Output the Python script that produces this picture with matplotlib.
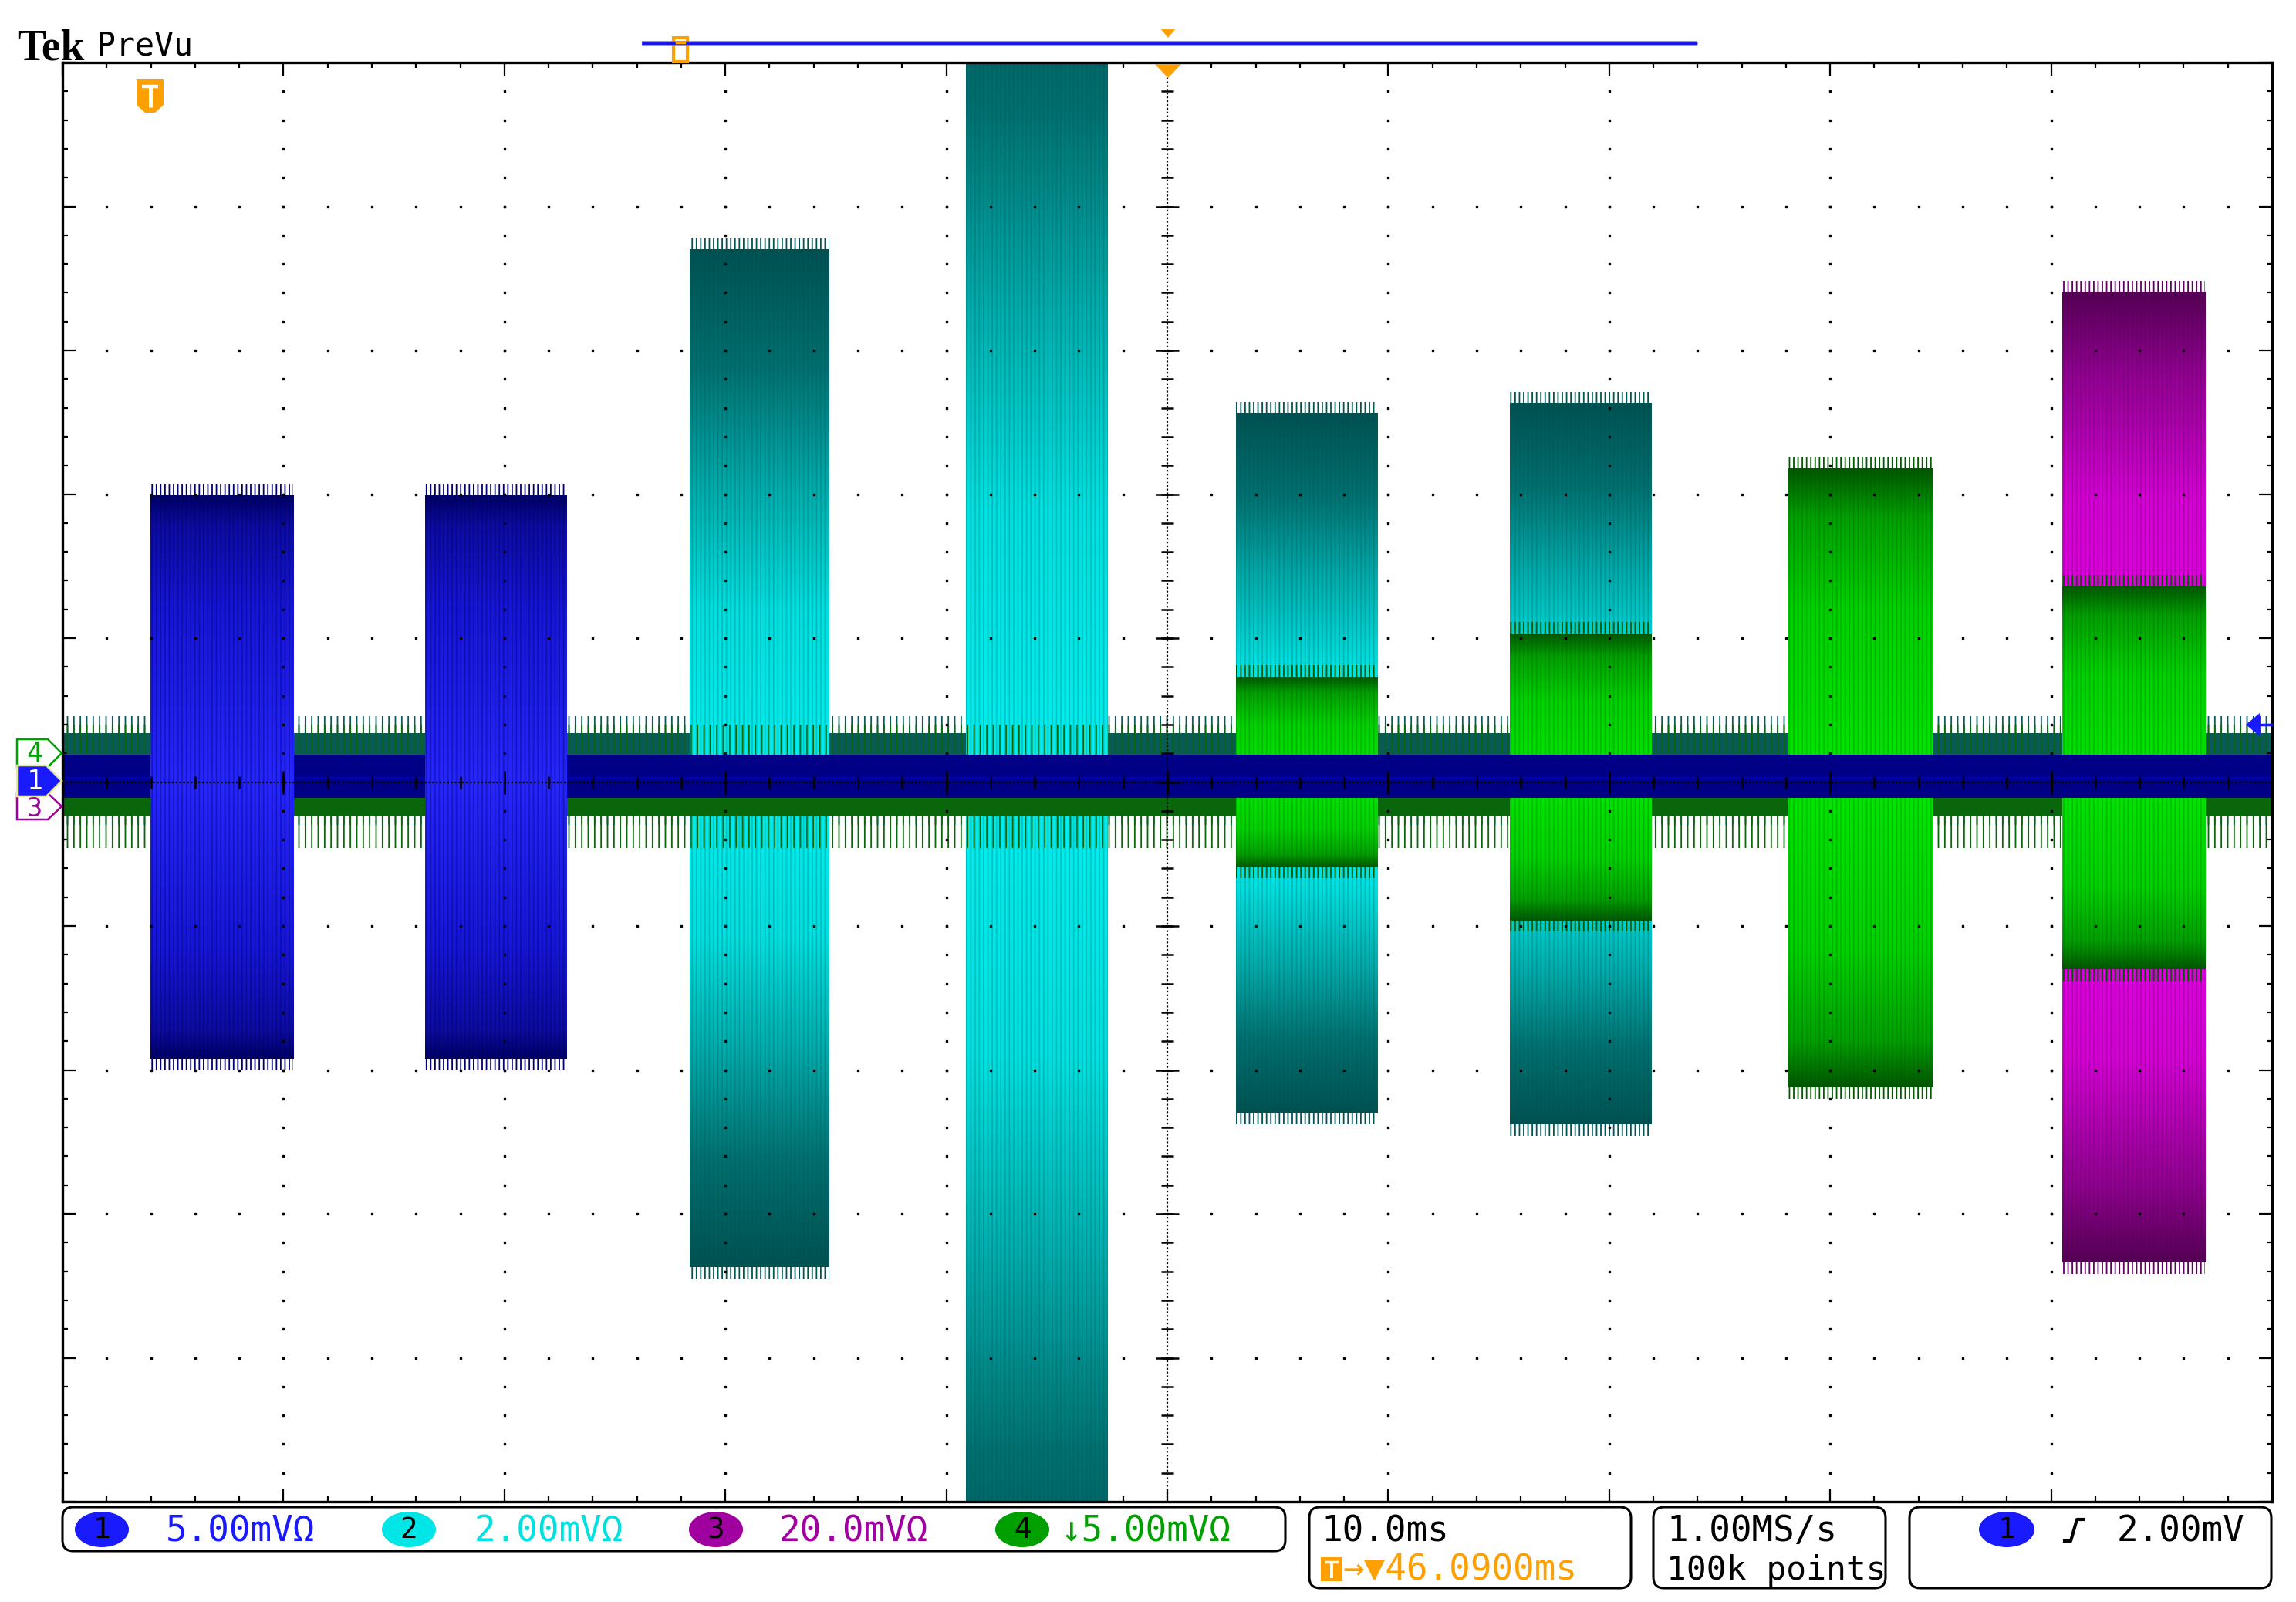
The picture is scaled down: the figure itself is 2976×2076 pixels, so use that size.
import numpy as np
import matplotlib.pyplot as plt
from matplotlib.colors import LinearSegmentedColormap
from matplotlib.patches import FancyBboxPatch, Ellipse, Polygon, Rectangle

# settings printed on the scope screen
ch_names = ['1', '2', '3', '4']
ch_scales = ['5.00mVΩ', '2.00mVΩ', '20.0mVΩ', '↓5.00mVΩ']
ch_colors = ['#1a1aff', '#00e6e6', '#a000a0', '#00a000']
ch_text_colors = ['#1a1aff', '#00e0e0', '#a000a0', '#00a000']
timebase = '10.0ms'
delay = '46.0900ms'
sample_rate = '1.00MS/s'
record_len = '100k points'
trig_level = '2.00mV'

# screen span: time in ms (10 ms/div), amplitude in divisions
t_span = (0.0, 100.0)
v_span = (-5.0, 5.0)

# burst envelopes (start/end in ms, top/bottom in div)
ch1_start = [3.98, 16.4]
ch1_end = [10.44, 22.8]
ch1_top = [1.99, 1.99]
ch1_bot = [-1.92, -1.92]

ch2_start = [28.4, 40.9, 53.1, 65.5]
ch2_end = [34.7, 47.3, 59.5, 71.9]
ch2_top = [3.70, 6.0, 2.56, 2.63]
ch2_bot = [-3.37, -6.0, -2.30, -2.38]

ch3_start = [90.5]
ch3_end = [96.96]
ch3_top = [3.40]
ch3_bot = [-3.34]

ch4_start = [53.1, 65.5, 78.1, 90.5]
ch4_end = [59.5, 71.9, 84.6, 96.96]
ch4_top = [0.73, 1.03, 2.18, 1.36]
ch4_bot = [-0.59, -0.96, -2.12, -1.30]

# idle noise of each channel: solid core and spike reach (div)
noise_core_top = [0.19, 0.34, 0.0, -0.11]
noise_core_bot = [-0.11, -0.20, -0.18, -0.24]
noise_peak_top = [0.19, 0.46, 0.0, 0.40]
noise_peak_bot = [-0.11, -0.30, -0.18, -0.46]
noise_colors = ['#000086', '#0a5a5a', '#6a006a', '#0a660a']

plt.rcParams['hatch.linewidth'] = 1.3

W, H = 2976, 2076
fig = plt.figure(figsize=(W / 100, H / 100), dpi=100)
fig.patch.set_facecolor('white')

# graticule area in pixels
gx0, gx1, gy0, gy1 = 81, 2945, 81, 1946
ax = fig.add_axes([gx0 / W, (H - gy1) / H, (gx1 - gx0) / W, (gy1 - gy0) / H])
ax.set_facecolor('white')

cmaps = {
    1: LinearSegmentedColormap.from_list('c1', [(0, '#2626ff'), (0.6, '#1616d8'), (0.9, '#0c0ca0'), (1, '#000066')]),
    2: LinearSegmentedColormap.from_list('c2', [(0, '#00f0f0'), (0.32, '#00e0e0'), (0.56, '#00aaaa'), (0.78, '#007070'), (1, '#005252')]),
    3: LinearSegmentedColormap.from_list('c3', [(0, '#ee00ee'), (0.58, '#d400d4'), (0.84, '#900090'), (1, '#560056')]),
    4: LinearSegmentedColormap.from_list('c4', [(0, '#00e800'), (0.55, '#00d200'), (0.85, '#00a000'), (1, '#005800')]),
}
streaks = {1: (0, 0, 0.35, 0.35), 2: (0, 0.3, 0.3, 0.25), 3: (0.3, 0, 0.3, 0.25), 4: (0, 0.3, 0, 0.25)}
fringes = {1: '#000070', 2: '#005555', 3: '#600060', 4: '#005a00'}


def draw_burst(ch, t0, t1, top, bot, z):
    ys = np.linspace(bot, top, 400)
    level = np.where(ys >= 0, ys / top, ys / bot)
    ax.imshow(level[:, None], cmap=cmaps[ch], vmin=0, vmax=1, extent=(t0, t1, bot, top),
              origin='lower', aspect='auto', interpolation='bilinear', zorder=z)
    ax.fill_between([t0, t1], bot, top, facecolor='none', edgecolor=streaks[ch],
                    hatch='|||', lw=0, zorder=z + 0.1)
    ax.fill_between([t0, t1], top, top + 0.08, facecolor='none', edgecolor=fringes[ch],
                    hatch='|||', lw=0, zorder=z)
    ax.fill_between([t0, t1], bot - 0.08, bot, facecolor='none', edgecolor=fringes[ch],
                    hatch='|||', lw=0, zorder=z)


def draw_noise(ch, z):
    i = ch - 1
    c = noise_colors[i]
    ax.fill_between(t_span, noise_core_bot[i], noise_core_top[i], color=c, lw=0, zorder=z)
    ax.fill_between(t_span, noise_core_top[i], noise_peak_top[i], facecolor='none',
                    edgecolor=c, hatch='||', lw=0, zorder=z)
    ax.fill_between(t_span, noise_peak_bot[i], noise_core_bot[i], facecolor='none',
                    edgecolor=c, hatch='||', lw=0, zorder=z)


# draw order on screen: ch2, ch3, ch4, ch1 on top
draw_noise(2, 1)
for a, b, tp, bt in zip(ch2_start, ch2_end, ch2_top, ch2_bot):
    draw_burst(2, a, b, tp, bt, 2)
draw_noise(3, 3)
for a, b, tp, bt in zip(ch3_start, ch3_end, ch3_top, ch3_bot):
    draw_burst(3, a, b, tp, bt, 4)
draw_noise(4, 5)
for a, b, tp, bt in zip(ch4_start, ch4_end, ch4_top, ch4_bot):
    draw_burst(4, a, b, tp, bt, 6)
draw_noise(1, 7)
ax.axhline(0.03, color='#0000b4', lw=2.5, zorder=7.2)
for a, b, tp, bt in zip(ch1_start, ch1_end, ch1_top, ch1_bot):
    draw_burst(1, a, b, tp, bt, 8)

# graticule
minor_t = np.arange(0, 100.01, 2)
minor_v = np.arange(-5, 5.01, 0.2)
for k in range(1, 10):
    if k != 5:
        ax.plot(np.full_like(minor_v, 10 * k), minor_v, 's', ms=2.0, color='k', zorder=20)
for k in range(-4, 5):
    if k != 0:
        ax.plot(minor_t, np.full_like(minor_t, k), 's', ms=2.0, color='k', zorder=20)
ax.axvline(50, color='k', lw=1.6, ls=(0, (1, 1.2)), zorder=20)
ax.axhline(0, color='k', lw=1.6, ls=(0, (1, 1.2)), zorder=20)
ax.plot(np.full_like(minor_v, 50), minor_v, '_', ms=11, mew=1.8, color='k', zorder=20)
ax.plot(minor_t, np.zeros_like(minor_t), '|', ms=11, mew=1.8, color='k', zorder=20)
ax.plot(np.full(9, 50), np.arange(-4, 5), '_', ms=22, mew=1.8, color='k', zorder=20)
ax.plot(np.arange(10, 100, 10), np.zeros(9), '|', ms=22, mew=1.8, color='k', zorder=20)

ax.set_xlim(*t_span)
ax.set_ylim(*v_span)
ax.set_xticks(np.arange(0, 100.01, 10))
ax.set_xticks(minor_t, minor=True)
ax.set_yticks(np.arange(-5, 5.01, 1))
ax.set_yticks(minor_v, minor=True)
ax.tick_params(which='both', direction='in', top=True, right=True, bottom=True, left=True,
               labelbottom=False, labelleft=False, width=1.6, color='k')
ax.tick_params(which='minor', length=5)
ax.tick_params(which='major', length=12)
for s in ax.spines.values():
    s.set_linewidth(2.4)
    s.set_zorder(25)

# overlay in screen pixels for the scope chrome
ov = fig.add_axes([0, 0, 1, 1], zorder=5)
ov.set_xlim(0, W)
ov.set_ylim(H, 0)
ov.axis('off')
ov.patch.set_alpha(0)

mono = ['DejaVu Sans Mono', 'DejaVu Sans']
orange = '#ffa000'

ov.text(22, 77, 'Tek', fontsize=40, fontweight='bold', family=['Liberation Serif', 'DejaVu Serif'], va='baseline')
ov.text(125, 72, 'PreVu', fontsize=30, family=mono, va='baseline')

# record view bar
ov.plot([832, 2200], [56, 56], color='#7070ff', lw=4.0, solid_capstyle='butt')
ov.plot([832, 2200], [56, 56], color='#1010ff', lw=2.0, solid_capstyle='butt')
ov.add_patch(Rectangle((873, 49), 18, 31, fc='white', ec=orange, lw=3))
ov.plot([877, 887], [55, 55], color=orange, lw=2.5)
ov.add_patch(Polygon([(1504, 37), (1524, 37), (1514, 49)], fc=orange, ec='none'))

# expansion point and trigger markers
ov.add_patch(Polygon([(1497, 83), (1531, 83), (1514, 101)], fc=orange, ec='none', zorder=30))
ov.add_patch(Polygon([(177, 103), (212, 103), (212, 136), (201, 146), (188, 146), (177, 136)],
                     fc=orange, ec='none', zorder=30))
ov.plot([184, 205], [112, 112], color='white', lw=3.2, zorder=31, solid_capstyle='butt')
ov.plot([194.5, 194.5], [112, 139], color='white', lw=3.6, zorder=31, solid_capstyle='butt')

# trigger level arrow on the right edge
ov.add_patch(Polygon([(2911, 939), (2929, 924), (2929, 954)], fc='#1a1aff', ec='none', zorder=30))
ov.plot([2927, 2944], [939, 939], color='#1a1aff', lw=2.5, zorder=30)

# channel ground markers on the left edge
ov.add_patch(Polygon([(22, 1028), (62, 1028), (80, 1045), (62, 1062), (22, 1062)],
                     fc='white', ec='#a000a0', lw=1.8))
ov.text(45, 1049, '3', fontsize=24, color='#a000a0', ha='center', va='center', family=mono)
ov.add_patch(Polygon([(22, 958), (62, 958), (80, 976), (62, 994), (22, 994)],
                     fc='white', ec='#00a000', lw=1.8))
ov.text(45, 977, '4', fontsize=25, color='#00a000', ha='center', va='center', family=mono)
ov.add_patch(Polygon([(22, 992), (60, 992), (80, 1012), (60, 1032), (22, 1032)],
                     fc='#1a1aff', ec='#e8e8a0', lw=1.8))
ov.text(45, 1013, '1', fontsize=25, color='white', ha='center', va='center', family=mono)

# status bar
fs = 33
ov.add_patch(FancyBboxPatch((81, 1953), 1585, 57, boxstyle='round,pad=0,rounding_size=14',
                            fc='white', ec='black', lw=2.2))
oval_x = [132, 530, 928, 1325]
text_x = [215, 615, 1010, 1375]
for i in range(4):
    ov.add_patch(Ellipse((oval_x[i], 1982), 70, 46, fc=ch_colors[i], ec='none'))
    ov.text(oval_x[i], 1983, ch_names[i], ha='center', va='center', fontsize=27, color='black', family=mono)
    ov.text(text_x[i], 1997, ch_scales[i], ha='left', va='baseline', fontsize=fs,
            color=ch_text_colors[i], family=mono)

ov.add_patch(FancyBboxPatch((1697, 1953), 417, 105, boxstyle='round,pad=0,rounding_size=14',
                            fc='white', ec='black', lw=2.2))
ov.text(1712, 1997, timebase, fontsize=fs, family=mono, va='baseline')
ov.add_patch(Rectangle((1712, 2018), 28, 31, fc=orange, ec='none'))
ov.plot([1717, 1735], [2024, 2024], color='white', lw=2.5, solid_capstyle='butt')
ov.plot([1726, 1726], [2024, 2045], color='white', lw=2.8, solid_capstyle='butt')
ov.text(1741, 2047, '→▼' + delay, fontsize=fs, family=mono, va='baseline', color=orange)

ov.add_patch(FancyBboxPatch((2143, 1953), 301, 105, boxstyle='round,pad=0,rounding_size=14',
                            fc='white', ec='black', lw=2.2))
ov.text(2160, 1997, sample_rate, fontsize=fs, family=mono, va='baseline')
ov.text(2160, 2047, record_len, fontsize=fs - 2, family=mono, va='baseline')

ov.add_patch(FancyBboxPatch((2475, 1953), 469, 105, boxstyle='round,pad=0,rounding_size=14',
                            fc='white', ec='black', lw=2.2))
ov.add_patch(Ellipse((2601, 1982), 72, 46, fc=ch_colors[0], ec='none'))
ov.text(2601, 1983, ch_names[0], ha='center', va='center', fontsize=27, color='black', family=mono)
ov.plot([2676, 2684, 2692, 2700], [1997, 1997, 1969, 1969], color='black', lw=3)
ov.text(2744, 1997, trig_level, fontsize=fs, family=mono, va='baseline')

fig.savefig('out.png', dpi=100, facecolor='white')
